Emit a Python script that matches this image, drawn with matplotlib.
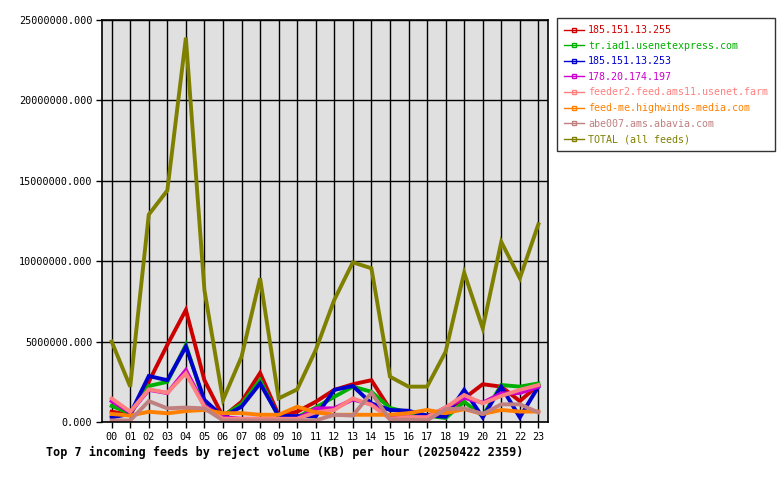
import matplotlib
matplotlib.use('Agg')
import matplotlib.pyplot as plt
from matplotlib.ticker import FormatStrFormatter
from matplotlib.lines import Line2D

hours = ['00', '01', '02', '03', '04', '05', '06', '07', '08', '09', '10', '11',
         '12', '13', '14', '15', '16', '17', '18', '19', '20', '21', '22', '23']

# values in millions of KB
red_255 = [0.64, 0.45, 2.5, 4.8, 6.97, 2.6, 0.33, 1.26, 3.05, 0.44, 0.64, 1.26,
           2.0, 2.35, 2.6, 0.8, 0.6, 0.4, 0.7, 1.47, 2.35, 2.2, 1.3, 2.3]
green_iad1 = [1.0, 0.54, 2.24, 2.5, 4.8, 1.2, 0.4, 1.1, 2.6, 0.3, 0.3, 0.9,
              1.57, 2.2, 1.88, 0.87, 0.6, 0.4, 0.25, 1.26, 0.37, 2.3, 2.2, 2.4]
blue_253 = [0.29, 0.5, 2.86, 2.6, 4.68, 1.37, 0.33, 0.95, 2.4, 0.37, 0.37, 0.35,
            2.0, 2.24, 1.16, 0.75, 0.7, 0.4, 0.33, 2.0, 0.29, 2.2, 0.29, 2.2]
magenta_197 = [1.3, 0.6, 2.0, 1.8, 3.23, 1.0, 0.3, 0.2, 0.2, 0.2, 0.2, 0.85,
               0.85, 1.4, 1.1, 0.3, 0.3, 0.3, 0.9, 1.5, 1.2, 1.78, 1.8, 2.2]
salmon_feeder2 = [1.47, 0.64, 2.03, 1.82, 3.03, 0.95, 0.2, 0.2, 0.2, 0.2, 0.2, 0.6,
                  0.75, 1.47, 1.06, 0.2, 0.3, 0.3, 0.9, 1.68, 1.16, 1.62, 2.0, 2.3]
orange_feedme = [0.5, 0.4, 0.64, 0.54, 0.68, 0.75, 0.55, 0.55, 0.45, 0.45, 0.95, 0.6,
                 0.45, 0.45, 0.45, 0.45, 0.55, 0.75, 0.55, 0.8, 0.5, 0.75, 0.65, 0.65]
rosy_abe007 = [0.1, 0.1, 1.3, 0.85, 0.9, 0.85, 0.1, 0.1, 0.1, 0.1, 0.1, 0.1,
               0.45, 0.4, 1.82, 0.15, 0.15, 0.1, 0.8, 0.85, 0.5, 1.1, 1.1, 0.6]
total = [5.0, 2.2, 12.9, 14.4, 23.9, 8.2, 1.37, 4.06, 8.94, 1.47, 2.03, 4.48,
         7.6, 9.93, 9.56, 2.82, 2.2, 2.2, 4.37, 9.29, 5.83, 11.2, 8.94, 12.3]

series = [
    ('185.151.13.255', red_255, '#cc0000'),
    ('tr.iad1.usenetexpress.com', green_iad1, '#00b000'),
    ('185.151.13.253', blue_253, '#0000cc'),
    ('178.20.174.197', magenta_197, '#cc00cc'),
    ('feeder2.feed.ams11.usenet.farm', salmon_feeder2, '#ff8080'),
    ('feed-me.highwinds-media.com', orange_feedme, '#ff8000'),
    ('abe007.ams.abavia.com', rosy_abe007, '#c08080'),
    ('TOTAL (all feeds)', total, '#808000'),
]

plt.rcParams['font.family'] = 'DejaVu Sans Mono'
plt.rcParams['font.size'] = 7.3

fig = plt.figure(figsize=(7.8, 4.8), dpi=100)
ax = fig.add_axes([0.1308, 0.1208, 0.5718, 0.8375])
ax.set_facecolor('#e0e0e0')

x = list(range(len(hours)))
for name, vals, color in series:
    ax.plot(x, [v * 1e6 for v in vals], color=color, linewidth=2.8,
            solid_joinstyle='miter', label=name)

ax.set_xlim(-0.52, 23.52)
ax.set_ylim(0, 25e6)
ax.set_xticks(x)
ax.set_xticklabels(hours)
ax.set_yticks([0, 5e6, 10e6, 15e6, 20e6, 25e6])
ax.yaxis.set_major_formatter(FormatStrFormatter('%.3f'))
ax.grid(True, color='black', linewidth=1)
ax.set_axisbelow(True)
for s in ax.spines.values():
    s.set_linewidth(1.2)
ax.tick_params(length=4, width=1, colors='black', pad=3)

ax.set_xlabel('Top 7 incoming feeds by reject volume (KB) per hour (20250422 2359)',
              fontweight='bold', fontsize=8.5)
ax.xaxis.set_label_coords(0.41, -0.06)

# legend: short line sample with a tiny open square in the middle
leg_handles = [Line2D([], [], color=c, linewidth=1, marker='s', markersize=2.5,
                      markerfacecolor='none', markeredgecolor=c)
               for _, _, c in series]
leg = fig.legend(leg_handles, [n for n, _, _ in series],
                 loc='upper left', bbox_to_anchor=(557 / 780, 1 - 18 / 480),
                 frameon=True, fancybox=False, edgecolor='black',
                 handlelength=2.0, handletextpad=0.4, labelspacing=0.56,
                 borderpad=0.7, borderaxespad=0, fontsize=7.2)
leg.get_frame().set_linewidth(1)
for txt, (_, _, c) in zip(leg.get_texts(), series):
    txt.set_color(c)

fig.savefig('out.png', dpi=100)
